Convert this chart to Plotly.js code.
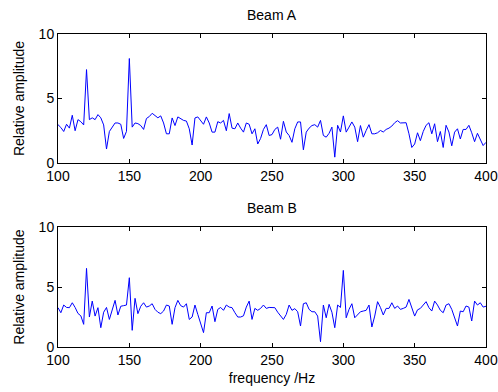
<!DOCTYPE html>
<html>
<head>
<meta charset="utf-8">
<script src="https://cdn.plot.ly/plotly-3.0.1.min.js"></script>
<style>html,body{margin:0;padding:0;background:#fff;}#chart{width:498px;height:392px;}</style>
</head>
<body>
<div id="chart"></div>
<script>
// frequency axis, 100..400 Hz in 2 Hz steps
var freqStart = 100, freqStep = 2, freqCount = 151;
var frequency = [];
for (var i = 0; i < freqCount; i++) frequency.push(freqStart + i * freqStep);

var beamA = [
2.97,2.75,2.44,3.0,2.7,3.7,2.5,3.36,3.2,2.95,
7.24,3.36,3.5,3.36,3.75,3.5,2.95,1.08,2.44,2.8,
3.1,3.1,3.0,1.9,2.45,8.1,2.78,3.1,3.05,2.9,
2.6,3.45,3.6,3.85,3.65,3.5,3.65,3.1,2.26,2.26,
3.49,2.9,3.57,3.45,3.3,3.25,2.65,1.39,3.49,3.57,
3.3,3.0,3.57,3.1,2.39,2.39,3.2,3.1,3.3,2.5,
3.83,2.7,2.65,3.1,2.7,2.39,3.1,3.0,2.26,2.65,
1.47,1.9,2.6,2.97,2.13,2.2,2.6,2.78,1.84,3.23,
2.4,2.13,1.6,2.65,3.18,3.18,1.02,2.39,2.7,2.9,
2.97,2.78,3.3,2.13,2.0,2.3,2.78,0.45,2.92,2.4,
3.65,2.39,2.78,3.18,2.78,1.65,2.9,2.0,2.52,2.97,
2.26,2.26,2.34,2.52,2.4,2.6,2.7,2.86,3.12,3.28,
3.1,3.12,3.12,2.26,1.2,1.47,2.34,1.73,2.44,2.92,
3.12,2.26,3.04,1.65,2.44,1.2,2.92,2.4,1.33,2.39,
2.65,1.86,2.6,2.6,2.92,2.34,1.65,2.3,1.86,1.35,
1.6
];

var beamB = [
3.28,2.86,3.5,3.3,3.28,3.69,3.3,2.8,2.6,1.89,
6.56,2.5,3.83,2.58,3.28,1.61,2.9,3.3,2.3,3.14,
3.89,2.67,3.4,3.45,3.5,5.78,1.39,4.06,2.78,3.4,
3.69,3.33,3.42,3.61,3.14,2.9,2.78,3.0,3.5,3.42,
1.89,3.28,3.89,3.45,3.33,3.61,2.3,2.5,3.5,2.72,
1.94,1.2,2.86,2.86,3.42,2.11,3.14,3.3,3.06,3.5,
3.33,3.28,2.86,2.5,2.5,2.6,3.33,3.83,2.3,3.22,
3.06,3.22,3.5,3.22,3.3,3.3,3.28,2.9,2.58,2.3,
2.72,3.5,3.06,3.2,2.94,1.75,3.61,3.69,3.14,2.94,
2.94,2.58,0.44,3.5,2.44,3.56,2.9,1.61,3.5,3.3,
6.39,2.44,3.14,3.61,2.44,2.72,2.94,3.0,3.06,3.5,
1.67,2.58,3.78,3.3,2.67,3.22,3.22,3.69,3.22,3.42,
3.14,3.22,3.33,3.97,3.2,2.58,3.1,3.22,3.5,3.78,
3.28,3.0,3.83,3.5,3.06,2.86,3.5,3.61,3.14,2.44,
1.75,3.0,2.94,3.42,3.33,2.17,3.83,3.5,3.69,3.33,
3.4
];

var xTicks = [100,150,200,250,300,350,400];
var yTicks = [0,5,10];
var titles = ["Beam A", "Beam B"];
var yLabel = "Relative amplitude";
var xLabel = "frequency /Hz";

var font = {family: "Liberation Sans, Arial, sans-serif", size: 14, color: "#000"};
var tickFont = {family: "Liberation Sans, Arial, sans-serif", size: 14, color: "#000"};

function xa(anchor, withTitle) {
  var a = {
    domain: [0, 1], anchor: anchor, range: [100, 400],
    tickvals: xTicks, ticktext: xTicks.map(String),
    ticks: "inside", ticklen: 4, tickcolor: "#000", tickwidth: 1,
    showline: true, linecolor: "#000", linewidth: 1, mirror: "ticks",
    showgrid: false, zeroline: false, tickfont: tickFont
  };
  if (withTitle) a.title = {text: xLabel, font: font, standoff: 6};
  return a;
}
function ya(anchor, dom) {
  return {
    domain: dom, anchor: anchor, range: [0, 10],
    tickvals: yTicks, ticktext: yTicks.map(String),
    ticks: "inside", ticklen: 4, tickcolor: "#000", tickwidth: 1,
    showline: true, linecolor: "#000", linewidth: 1, mirror: "ticks",
    showgrid: false, zeroline: false, tickfont: tickFont,
    title: {text: yLabel, font: font, standoff: 10}
  };
}

var traces = [
  {x: frequency, y: beamA, xaxis: "x", yaxis: "y", type: "scatter", mode: "lines",
   line: {color: "#0000ff", width: 1}, hoverinfo: "none"},
  {x: frequency, y: beamB, xaxis: "x2", yaxis: "y2", type: "scatter", mode: "lines",
   line: {color: "#0000ff", width: 1}, hoverinfo: "none"}
];

var layout = {
  width: 498, height: 392,
  margin: {l: 58, r: 12, t: 34, b: 45},
  paper_bgcolor: "#fff", plot_bgcolor: "#fff",
  showlegend: false, font: font,
  xaxis: xa("y", false), yaxis: ya("x", [0.588, 1]),
  xaxis2: xa("y2", true), yaxis2: ya("x2", [0, 0.383]),
  annotations: [
    {text: titles[0], xref: "paper", yref: "paper", x: 0.5, y: 1, yshift: 19, showarrow: false, xanchor: "center", yanchor: "middle", font: font},
    {text: titles[1], xref: "paper", yref: "paper", x: 0.5, y: 0.383, yshift: 19, showarrow: false, xanchor: "center", yanchor: "middle", font: font}
  ]
};

Plotly.newPlot("chart", traces, layout, {staticPlot: true, displayModeBar: false});
</script>
</body>
</html>
